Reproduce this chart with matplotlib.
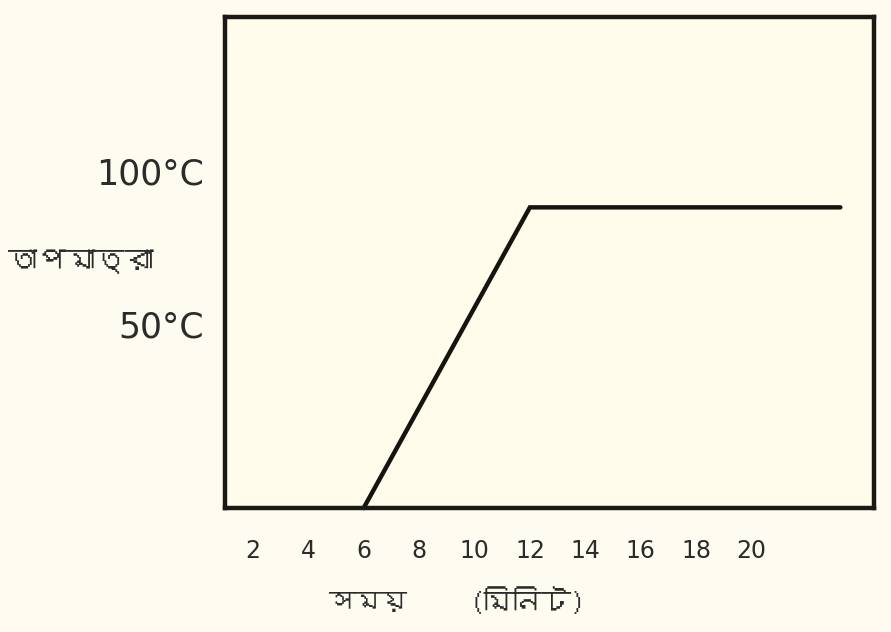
import matplotlib
matplotlib.use("Agg")
import matplotlib.pyplot as plt
from matplotlib import font_manager
from matplotlib.ft2font import FT2Font

# ---- data ----
time_min = [6, 12, 23.2]          # minutes
temp_c = [-10, 88, 88]            # degrees C (line starts on the baseline)
x_ticks = [2, 4, 6, 8, 10, 12, 14, 16, 18, 20]
x_tick_labels = [str(v) for v in x_ticks]
y_ticks = [50, 100]
y_tick_labels = ["50°C", "100°C"]
y_label = "তাপমাত্রা"
x_label_1 = "সময়"
x_label_2 = "(মিনিট)"

# find a font with Bengali glyphs, if any
beng_family = None
for f in font_manager.fontManager.ttflist:
    try:
        ft = FT2Font(f.fname)
        cm = ft.get_charmap()
        if 0x09A4 in cm and 0x09AE in cm:
            beng_family = f.name
            break
    except Exception:
        pass
fam = [beng_family, "DejaVu Sans"] if beng_family else ["DejaVu Sans"]

bg = "#FEFCF0"
ink = "#2b2b2b"
fig = plt.figure(figsize=(8.91, 6.32), dpi=100, facecolor=bg)
ax = fig.add_axes([0.2525, 0.196, 0.728, 0.777])
ax.set_facecolor("#FFFCEC")

ax.plot(time_min, temp_c, color="#151510", lw=3.2, solid_capstyle="round",
        solid_joinstyle="miter", clip_on=False)

ax.set_xlim(1.0, 24.4)
ax.set_ylim(-10, 150)

for s in ax.spines.values():
    s.set_linewidth(3.2)
    s.set_color("#1a1a14")

ax.set_xticks(x_ticks)
ax.set_xticklabels(x_tick_labels, fontsize=17, color=ink, family="DejaVu Sans")
ax.set_yticks(y_ticks)
ax.set_yticklabels(y_tick_labels, fontsize=25, color=ink, family="DejaVu Sans")
ax.tick_params(axis="both", length=0)
ax.tick_params(axis="x", pad=22)
ax.tick_params(axis="y", pad=15)

fig.text(8 / 891, 1 - 262 / 632, y_label, fontsize=21, color=ink,
         family=fam, ha="left", va="center")
fig.text(368 / 891, 1 - 602 / 632, x_label_1, fontsize=19, color=ink,
         family=fam, ha="center", va="center")
fig.text(528 / 891, 1 - 602 / 632, x_label_2, fontsize=21, color=ink,
         family=fam, ha="center", va="center")

fig.savefig("out.png", dpi=100, facecolor=bg)
